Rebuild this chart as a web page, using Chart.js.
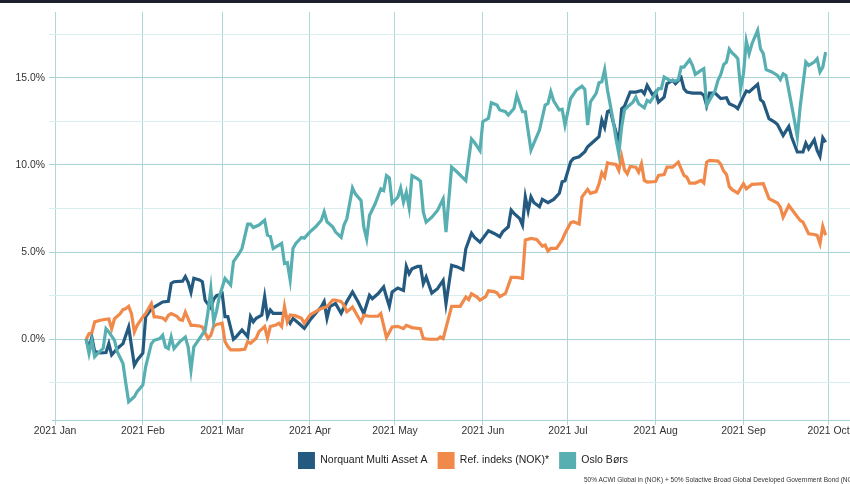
<!DOCTYPE html>
<html>
<head>
<meta charset="utf-8">
<script src="https://cdn.jsdelivr.net/npm/chart.js@4"></script>
<style>
  html, body { margin: 0; padding: 0; background: #fff; overflow: hidden; }
  #wrap { position: relative; width: 850px; height: 484px; }
  #topbar { position: absolute; left: 0; top: 0; width: 850px; height: 3px; background: #1b1f2e; }
  #note { position: absolute; left: 584px; top: 475px; font: 6.5px "Liberation Sans", Arial, sans-serif; color: #333; white-space: nowrap; line-height: 9px; }
</style>
</head>
<body>
<div id="wrap">
  <canvas id="myChart"></canvas>
  <div id="topbar"></div>
  <div id="note">50% ACWI Global in (NOK) + 50% Solactive Broad Global Developed Government Bond (NOK)</div>
</div>
<script>
document.addEventListener("DOMContentLoaded", function () {

// x values are days since 1 Jan 2021
const monthStartDays = [0, 31, 59, 90, 120, 151, 181, 212, 243, 273];
const monthLabels = ['2021 Jan', '2021 Feb', '2021 Mar', '2021 Apr', '2021 May', '2021 Jun', '2021 Jul', '2021 Aug', '2021 Sep', '2021 Oct'];
const yTickValues = [-2.5, 0, 2.5, 5, 7.5, 10, 12.5, 15, 17.5];

const seriesNames = ['Norquant Multi Asset A', 'Ref. indeks (NOK)*', 'Oslo Børs'];

const norquantDays = [11,12,13,14,16,18,19,20,22,24,25,26,28,29,31,32,34,36,38,40,41,42,45,46,47,48,49,51,52,53,55,56,57,58,59,60,61,63,64,66,68,69,70,71,73,74,75,76,77,80,81,83,84,86,88,90,92,94,95,96,97,99,101,103,105,107,109,111,112,114,116,117,118,119,121,123,124,125,126,128,129,130,131,133,135,137,138,140,142,144,145,147,148,150,153,155,157,158,160,161,162,164,165,166,167,168,169,171,172,174,176,178,179,180,182,183,185,187,188,190,192,193,194,195,196,197,198,199,200,201,203,205,207,208,209,211,212,213,215,216,218,219,221,222,223,225,228,229,230,231,233,235,237,238,240,241,243,244,245,248,249,250,252,254,255,257,259,260,262,264,265,266,268,269,270,271,272];
const norquantValues = [0,-0.55,0.13,-0.7,-0.78,-0.76,-0.25,-0.9,-0.53,-0.25,0.23,0.7,-1.49,-1.2,-0.8,1.28,1.75,1.95,2.14,2.18,3.2,3.3,3.33,3.6,3.27,2.7,3.5,3.4,3.3,2.23,1.8,2.3,2.5,2.55,2.63,1.3,1.3,0,0.15,0.53,0.15,1.3,1.0,1.2,1.39,2.44,1.3,1.68,1.49,1.49,1.49,0.92,1.2,0.92,0.63,1.1,1.49,1.87,2.16,1.2,1.87,2.06,1.49,2.16,2.71,2.14,1.47,2.52,2.33,2.61,3.0,2.42,1.89,2.71,2.94,2.8,4.18,3.76,4.05,4.18,4.18,3.19,3.57,2.65,2.9,3.38,2.04,4.24,4.15,3.99,5.19,6.09,5.86,5.57,6.22,6.07,5.88,6.16,6.45,7.41,7.22,6.93,6.55,8.17,7.37,8.17,7.85,7.6,8.02,7.83,8.02,8.37,9.03,9.09,10.18,10.37,10.47,10.76,11.04,11.33,11.62,12.57,12.15,13.05,13.15,12.46,11.9,11.2,13.22,13.36,14.18,14.18,14.27,14.08,14.56,13.99,14.18,13.6,13.89,14.66,14.85,14.66,15.0,14.37,14.18,14.12,14.12,13.99,13.41,14.12,14.12,13.8,13.85,13.51,13.36,13.22,13.93,14.24,14.18,14.62,13.74,13.6,12.65,12.46,12.32,11.69,12.21,11.6,10.74,10.74,11.25,10.93,11.44,10.83,10.49,11.56,11.3];

const refDays = [11,12,13,14,16,18,19,20,21,23,24,25,26,27,28,29,31,32,34,35,36,38,39,40,41,43,44,45,46,48,49,51,52,54,55,56,57,59,60,61,62,64,65,67,68,69,71,72,74,75,76,78,79,80,81,82,83,85,87,88,90,92,94,96,98,99,101,102,103,104,105,108,109,111,114,115,117,119,121,123,124,126,129,130,132,135,136,137,140,143,145,146,147,149,150,152,153,155,156,157,159,161,163,165,166,168,170,172,173,174,175,177,179,180,182,183,185,186,188,189,191,192,193,194,195,196,198,199,200,201,202,203,205,206,207,208,209,212,213,215,216,218,220,222,223,224,226,228,229,230,231,234,235,236,237,238,239,241,243,244,246,250,252,255,256,257,259,261,263,264,266,268,269,270,271,272];
const refValues = [0,0.32,0.36,1.0,1.09,1.15,1.16,0.6,1.18,1.47,1.7,1.76,1.89,1.47,0.42,0.8,1.28,1.47,2.04,1.28,1.28,1.22,1.09,1.37,1.47,1.32,1.13,1.09,1.56,0.8,0.8,0.76,0.7,0.04,0.23,0.74,0.85,0.92,-0.13,-0.42,-0.61,-0.61,-0.61,-0.57,-0.13,-0.23,0.06,0.44,0.73,0.06,0.73,0.82,0.92,0.73,1.87,1.0,1.39,1.34,1.2,0.92,1.39,1.58,1.77,1.87,2.25,2.25,2.16,1.95,1.58,1.7,1.85,0.99,1.37,1.32,1.32,1.47,0.1,0.71,0.74,0.61,0.8,0.67,0.61,0.04,0,0,0.13,0.04,1.89,1.89,2.42,2.27,2.61,2.42,2.24,2.44,2.78,2.73,2.67,2.44,2.63,3.55,3.55,3.49,5.69,5.78,5.72,5.34,5.4,5.06,5.21,5.21,5.69,6.07,6.68,6.74,6.61,8.17,8.59,8.37,8.47,8.9,9.55,9.3,10.12,10.07,10.03,9.68,10.49,9.72,9.49,9.91,9.87,9.59,10.07,9.11,9.02,9.05,9.4,9.45,9.87,9.87,10.16,9.4,9.3,8.96,8.96,9.11,8.96,10.16,10.26,10.22,10.03,9.65,9.45,8.75,8.58,8.38,8.92,8.63,8.88,8.92,8.07,7.81,7.58,7.0,7.68,7.24,6.82,6.72,6.05,6.01,5.96,5.48,6.47,5.96];

const osloDays = [11,12,13,14,15,17,18,19,21,22,24,25,26,28,29,31,32,34,35,37,38,39,40,41,42,43,44,46,47,48,49,51,53,54,55,56,57,58,60,62,63,65,66,68,69,70,72,74,75,76,77,79,80,81,82,83,84,85,87,88,90,92,94,95,96,98,99,101,102,103,105,106,108,109,110,111,113,115,116,117,118,119,121,122,123,124,125,126,128,129,130,131,133,135,137,138,140,142,145,147,148,150,151,153,154,156,157,159,160,162,163,165,166,168,169,171,173,174,175,176,178,179,180,182,184,186,187,188,189,191,192,193,194,195,196,197,198,199,200,201,202,204,205,206,208,209,210,211,213,214,215,217,219,220,221,222,224,225,226,228,229,230,231,233,234,235,236,237,238,239,240,241,242,243,244,245,246,248,249,250,251,253,255,256,257,258,260,261,262,263,265,266,268,269,270,271,272];
const osloValues = [0,-0.82,-0.06,-1.0,-0.82,-0.53,0.61,0.42,-0.06,-0.73,-1.39,-2.54,-3.59,-3.3,-3.0,-2.63,-1.58,-0.25,-0.06,0.04,0.23,-0.44,-0.53,0.13,-0.53,-0.34,-0.15,0.13,-0.44,-1.77,-0.44,0.04,0.52,1.56,2.9,1.0,1.6,2.44,3.49,3.11,4.45,4.92,5.21,6.6,6.6,6.41,6.55,6.83,5.97,5.9,5.21,5.4,5.5,4.35,4.4,3.4,5.21,5.5,5.84,5.8,6.16,6.45,6.83,7.31,6.74,6.45,6.16,5.84,6.55,6.91,8.68,8.34,7.96,6.43,5.76,7.1,7.77,8.63,8.53,9.39,9.26,7.81,8.15,8.68,7.86,8.43,7.54,9.39,9.2,9.06,7.29,6.72,7.0,7.39,8.05,6.15,9.87,9.58,9.1,11.49,11.3,10.82,12.48,12.67,13.57,13.43,13.15,13.05,12.86,13.24,14.0,13.05,13.05,10.85,11.23,12.0,13.43,13.52,14.2,13.68,13.15,13.19,12.28,13.81,14.29,14.52,14.33,12.28,13.62,14.1,14.71,14.77,15.47,14.3,13.43,12.55,11.5,10.64,12.17,13.16,13.32,13.6,13.89,13.51,13.28,13.7,13.6,13.85,14.37,14.37,15.04,14.85,14.81,14.89,15.61,15.61,16.03,15.71,15.19,15.42,15.52,13.41,13.7,14.27,14.85,15.19,15.75,15.9,16.64,16.42,16.28,16.09,14.37,15.23,17.1,16.38,16.95,17.72,16.66,16.38,15.46,15.33,15.13,14.89,15.23,15.13,13.41,12.55,11.6,13.32,15.9,15.71,15.9,16.09,15.33,15.61,16.47];

const colors = ['#245a80', '#f0894a', '#57afb2'];

function toPoints(days, values) {
    return days.map((d, i) => ({ x: d, y: values[i] }));
}

const fontFamily = '"Liberation Sans", Arial, sans-serif';

const data = {
    datasets: [
        { label: seriesNames[0], data: toPoints(norquantDays, norquantValues), order: 2 },
        { label: seriesNames[1], data: toPoints(refDays, refValues), order: 1 },
        { label: seriesNames[2], data: toPoints(osloDays, osloValues), order: 0 }
    ].map((ds, i) => Object.assign(ds, {
        borderColor: colors[i],
        backgroundColor: colors[i],
        borderWidth: 3.2,
        pointRadius: 0,
        tension: 0
    }))
};

// nudge the legend so it sits where the original put it
const legendShift = {
    id: 'legendShift',
    afterLayout(chart) {
        chart.legend.left += 38;
        chart.legend.right += 38;
    }
};

const config = {
    type: 'line',
    data: data,
    plugins: [legendShift],
    options: {
        responsive: true,
        maintainAspectRatio: false,
        animation: false,
        layout: { padding: { top: 12, left: 0, right: 0, bottom: 5 } },
        plugins: {
            tooltip: { enabled: false },
            legend: {
                position: 'bottom',
                labels: {
                    boxWidth: 17,
                    boxHeight: 17,
                    padding: 10,
                    color: '#222',
                    font: { family: fontFamily, size: 10.5 },
                    sort: (a, b) => a.datasetIndex - b.datasetIndex,
                    generateLabels: (chart) => Chart.defaults.plugins.legend.labels.generateLabels(chart)
                        .map(l => Object.assign(l, { lineWidth: 0 }))
                }
            }
        },
        scales: {
            x: {
                type: 'linear',
                min: -1.06,
                max: 280.6,
                afterBuildTicks: (scale) => { scale.ticks = monthStartDays.map(v => ({ value: v })); },
                afterFit: (scale) => { scale.height = 22; },
                ticks: {
                    autoSkip: false,
                    maxRotation: 0,
                    padding: 0,
                    color: '#333',
                    font: { family: fontFamily, size: 10.4 },
                    callback: (v) => monthLabels[monthStartDays.indexOf(v)]
                },
                grid: { color: '#aed8d8', lineWidth: 1, tickLength: 5 },
                border: { display: true, color: '#a9d3d3' }
            },
            y: {
                min: -4.63,
                max: 18.77,
                afterBuildTicks: (scale) => { scale.ticks = yTickValues.map(v => ({ value: v })); },
                afterFit: (scale) => { scale.width = 52; },
                ticks: {
                    padding: 4,
                    color: '#333',
                    font: { family: fontFamily, size: 10.4 },
                    callback: (v) => (v % 5 === 0 ? v.toFixed(1) + '%' : '')
                },
                grid: {
                    tickLength: 3,
                    color: (ctx) => (ctx.tick && ctx.tick.value % 5 === 0 ? '#a9d3d3' : '#d9eeee')
                },
                border: { display: false }
            }
        }
    }
};

var myChart = new Chart(
    document.getElementById('myChart'),
    config
);

});
</script>
</body>
</html>
